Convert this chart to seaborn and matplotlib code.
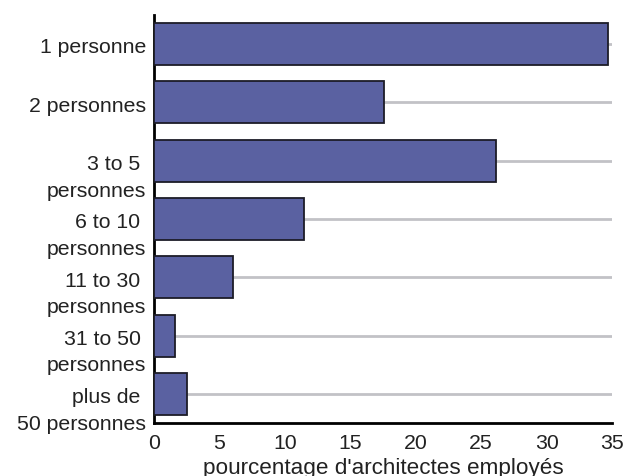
import numpy as np
import pandas as pd
import seaborn as sns
import matplotlib.pyplot as plt
import matplotlib.transforms as mtransforms

categories = ['1 personne', '2 personnes', '3 to 5 \npersonnes', '6 to 10 \npersonnes',
              '11 to 30 \npersonnes', '31 to 50 \npersonnes', 'plus de \n50 personnes']
values = [34.7, 17.6, 26.1, 11.5, 6.0, 1.6, 2.5]
xticks = [0, 5, 10, 15, 20, 25, 30, 35]

df = pd.DataFrame({'cat': categories, 'pct': values})

sns.set_style('white')
plt.rcParams['font.family'] = ['Liberation Sans', 'DejaVu Sans']
fontsize = 15.3

fig = plt.figure(figsize=(6.24, 4.77), dpi=100)
ax = fig.add_axes([0.2468, 0.1111, 0.734, 0.8554])

sns.barplot(data=df, x='pct', y='cat', orient='h', color='#5a61a1', saturation=1,
            width=0.72, edgecolor='#1c1c28', linewidth=1.3, ax=ax, zorder=3)

# grey guide lines at each bar centre
ax.grid(axis='y', color='#c2c2c6', lw=2, zorder=0)
ax.grid(axis='x', visible=False)
ax.set_axisbelow(True)

ax.set_xlim(0, 35)
ax.set_ylim(6.5, -0.5)
ax.set_xticks(xticks)
ax.set_xticklabels([str(t) for t in xticks], fontsize=fontsize, color='#222222')
ax.tick_params(axis='x', direction='in', length=7, width=1.6, color='black', pad=7.5)
ax.tick_params(axis='y', length=0, pad=5.5)

ax.set_yticks(range(len(categories)))
ax.set_yticklabels(categories, fontsize=fontsize, color='#222222', va='top',
                   ha='right', linespacing=1.5)
shift = mtransforms.ScaledTranslation(0, 4.8 / 72, fig.dpi_scale_trans)
for lab in ax.get_yticklabels():
    lab.set_transform(lab.get_transform() + shift)

ax.set_xlabel("pourcentage d'architectes employés", fontsize=16.2, color='#222222', labelpad=3)
ax.set_ylabel('')

for side in ['top', 'right']:
    ax.spines[side].set_visible(False)
for side in ['left', 'bottom']:
    ax.spines[side].set_color('black')
    ax.spines[side].set_linewidth(2)

fig.savefig('out.png', dpi=100)
